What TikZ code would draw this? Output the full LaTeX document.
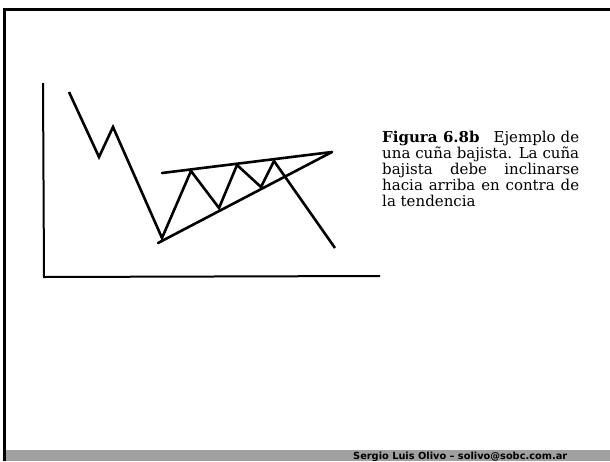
\documentclass[tikz,border=0pt]{standalone}
\usepackage{fontspec}
\usepackage{xcolor}
\usepackage{tikz}
\usetikzlibrary{positioning}
\newfontfamily\creditfont{DejaVu Sans}
\newfontfamily\capfont{DejaVu Serif}
\newcommand\capsize{\capfont\fontsize{15}{16}\selectfont}
\definecolor{barGray}{HTML}{A0A0A0}

\begin{document}
\begin{tikzpicture}[
  x=1pt, y=-1pt,
  axis/.style={line width=2pt, line join=miter},
  price/.style={line width=2.6pt, line join=miter},
  trend/.style={line width=2.6pt, line cap=round},
  caption/.style={inner sep=0pt, text width=197pt, align=justify, anchor=base west},
  credit/.style={inner sep=0pt, anchor=base west, font=\creditfont\bfseries\fontsize{9.8}{12}\selectfont}
]
\useasboundingbox (0,0) rectangle (610,461);
% slide frame and footer bar
\fill[barGray] (6,450) rectangle (610,461);
\draw[line width=3pt] (4.5,461) -- (4.5,9) -- (610,9);
\node[credit] (author) at (353,459.5) {Sergio Luis Olivo – solivo@sobc.com.ar};

% axes
\draw[axis] (43,83) -- (44,277) -- (380,276);

% price path with the wedge
\draw[price] (69,92) -- (99,157) -- (113,127) -- (162,238) -- (191,171) -- (219,208)
  -- (237,165) -- (261,187) -- (274,161) -- (335,248);
\draw[trend] (162,173) -- (332,152);
\draw[trend] (158,243) -- (332,152);

\node[caption] (fig) at (382,142) {\capsize{\bfseries Figura 6.8b}\hspace{0.6em} Ejemplo de\linebreak
  una cuña bajista. La cuña\linebreak
  bajista debe inclinarse\linebreak
  hacia arriba en contra de\linebreak
  la tendencia\par};
\end{tikzpicture}
\end{document}
